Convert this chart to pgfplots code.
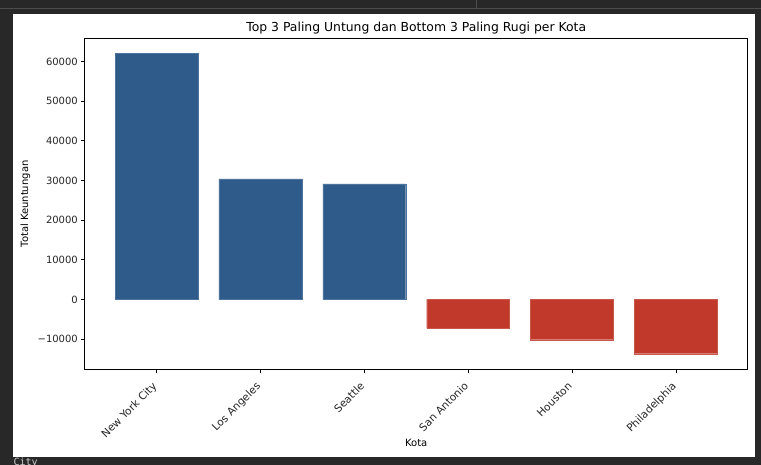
\documentclass[border=0pt]{standalone}
\usepackage{pgfplots}
\pgfplotsset{compat=1.18}
\usepackage{fontspec}
\setmainfont{DejaVu Sans}
\setmonofont{DejaVu Sans Mono}
\usetikzlibrary{backgrounds}

\definecolor{untung}{HTML}{2E5B8A}
\definecolor{rugi}{HTML}{C0392B}
\definecolor{bingkai}{HTML}{282828}

\begin{document}
\begin{tikzpicture}[x=1pt,y=1pt]
    \begin{axis}[
        name=ax,
        at={(0,0)}, anchor=south west,
        scale only axis,
        width=663.5pt, height=330.5pt,
        xmin=-0.69, xmax=5.69,
        ymin=-17570, ymax=65740,
        scaled y ticks=false,
        xtick={0,...,5},
        xticklabels={New York City,Los Angeles,Seattle,San Antonio,Houston,Philadelphia},
        ytick={-10000,0,10000,20000,30000,40000,50000,60000},
        yticklabels={−10000,0,10000,20000,30000,40000,50000,60000},
        xtick pos=bottom, ytick pos=left,
        tick align=outside,
        major tick length=3.5pt,
        tick style={black, line width=0.8pt},
        axis line style={black, line width=0.8pt},
        ticklabel style={font=\fontsize{10}{12}\selectfont, text=black!85},
        xticklabel style={font=\fontsize{10.6}{12}\selectfont, rotate=45, anchor=north east, inner sep=1.5pt, xshift=-8pt, yshift=-1pt},
        title={Top 3 Paling Untung dan Bottom 3 Paling Rugi per Kota},
        title style={font=\fontsize{12.4}{14}\selectfont, at={(axis description cs:0.5,1)}, anchor=south, yshift=-5pt},
        xlabel={Kota},
        ylabel={Total Keuntungan},
        label style={font=\fontsize{10}{12}\selectfont},
        xlabel style={at={(axis description cs:0.5,-0.2239)}, anchor=center},
        ylabel style={at={(axis description cs:-0.0897,0.5)}, anchor=center},
        ybar, bar width=83pt,
        clip=false,
        ]
        \addplot+[bar shift=0pt, fill=untung, draw=untung!85!white, line width=0.4pt] coordinates {
            (0,62090)
            (1,30400)
            (2,29140)
        };
        \addplot+[bar shift=0pt, fill=rugi, draw=rugi!85!white, line width=0.4pt] coordinates {
            (3,-7310)
            (4,-10180)
            (5,-13710)
        };
    \end{axis}
    \begin{scope}[on background layer]
        \fill[bingkai] (-84.5,-96) rectangle (676.5,369);
        \fill[white] (-71.5,-87.7) rectangle (670.5,355);
        \draw[black!70!white, line width=0.8pt] (-84.5,360.7) -- (676.5,360.7);
        \draw[black!70!white, line width=0.8pt] (391.5,360.7) -- (391.5,369);
    \end{scope}
    \begin{scope}
        \clip (-84.5,-96) rectangle (676.5,369);
        \node[anchor=north west, inner sep=0pt, text=black!20, font=\ttfamily\fontsize{10}{12}\selectfont] at (-71.5,-89) {City};
    \end{scope}
\end{tikzpicture}
\end{document}
